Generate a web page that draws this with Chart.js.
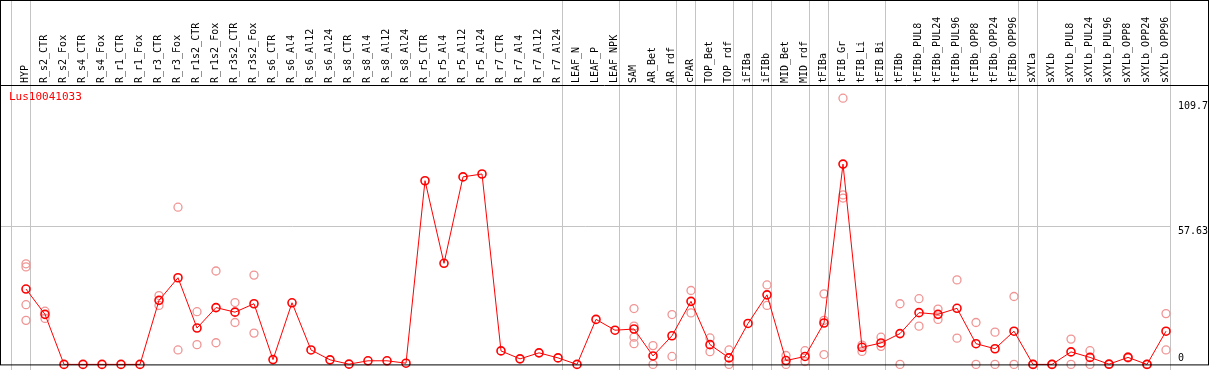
<!DOCTYPE html>
<html>
<head>
<meta charset="utf-8">
<script src="https://cdn.jsdelivr.net/npm/chart.js@4.4.1/dist/chart.umd.min.js"></script>
<style>
  html, body { margin: 0; padding: 0; background: #fff; }
  canvas { display: block; }
</style>
</head>
<body>
<canvas id="chart" width="1209" height="370"></canvas>
<script>
// sample names (top labels)
const samples = [
    'HYP', 'R_s2_CTR', 'R_s2_Fox', 'R_s4_CTR', 'R_s4_Fox', 'R_r1_CTR', 'R_r1_Fox',
    'R_r3_CTR', 'R_r3_Fox', 'R_r1s2_CTR', 'R_r1s2_Fox', 'R_r3s2_CTR', 'R_r3s2_Fox',
    'R_s6_CTR', 'R_s6_Al4', 'R_s6_Al12', 'R_s6_Al24', 'R_s8_CTR', 'R_s8_Al4',
    'R_s8_Al12', 'R_s8_Al24', 'R_r5_CTR', 'R_r5_Al4', 'R_r5_Al12', 'R_r5_Al24',
    'R_r7_CTR', 'R_r7_Al4', 'R_r7_Al12', 'R_r7_Al24', 'LEAF_N', 'LEAF_P', 'LEAF_NPK',
    'SAM', 'AR_Bet', 'AR_rdf', 'cPAR', 'TOP_Bet', 'TOP_rdf', 'iFIBa', 'iFIBb',
    'MID_Bet', 'MID_rdf', 'tFIBa', 'tFIB_Gr', 'tFIB_Li', 'tFIB_Bi', 'tFIBb',
    'tFIBb_PUL8', 'tFIBb_PUL24', 'tFIBb_PUL96', 'tFIBb_OPP8', 'tFIBb_OPP24', 'tFIBb_OPP96',
    'sXYLa', 'sXYLb', 'sXYLb_PUL8', 'sXYLb_PUL24', 'sXYLb_PUL96', 'sXYLb_OPP8',
    'sXYLb_OPP24', 'sXYLb_OPP96'
];

// mean expression
const meanValues = [
    31.3, 20.8, 0, 0, 0, 0, 0, 26.6, 36.0, 15.1,
    23.6, 21.7, 25.2, 2.0, 25.6, 6.0, 1.9, 0.1, 1.5, 1.5,
    0.5, 76.3, 42.0, 77.9, 79.1, 5.6, 2.3, 4.8, 2.7, 0,
    18.7, 14.2, 14.7, 3.5, 11.9, 26.2, 8.2, 2.7, 17.0, 28.9,
    1.6, 3.3, 17.2, 83.2, 7.1, 8.9, 12.8, 21.5, 20.8, 23.3,
    8.6, 6.5, 13.8, 0, 0, 5.2, 2.9, 0.1, 2.9, 0,
    13.8
];

// replicates (null = no replicate)
const rep1 = [
    41.8, 22.1, null, null, null, null, null, 28.6, 65.3, 21.9,
    38.8, 25.7, 37.1, null, null, null, null, null, null, null,
    null, null, null, null, null, null, null, null, null, null,
    null, null, 23.2, 7.8, 20.7, 30.7, 11.0, 6.0, null, 33.0,
    3.7, 5.7, 29.3, 110.6, 8.0, 11.3, 25.2, 27.3, 23.0, 35.1,
    17.4, 13.4, 28.2, 0, 0, 10.5, 5.7, 0, 3.1, 0,
    21.1
];
const rep2 = [
    40.5, 19.1, null, null, null, null, null, 24.5, 6.0, 8.2,
    9.0, 17.4, 13.0, null, null, null, null, null, null, null,
    null, null, null, null, null, null, null, null, null, null,
    null, null, 15.9, 0, 3.3, 21.4, 5.3, 0, null, 24.5,
    0, 1.2, 18.3, 70.4, 5.4, 7.5, 0, 15.9, 18.7, 10.9,
    0, 0, 0, 0, 0, 0, 0, 0, 2.7, 0,
    6.0
];
const rep3 = [
    24.8, null, null, null, null, null, null, null, null, null,
    null, null, null, null, null, null, null, null, null, null,
    null, null, null, null, null, null, null, null, null, null,
    null, null, 11.3, null, null, null, null, null, null, null,
    null, null, 4.1, 69.1, null, null, null, null, null, null,
    null, null, null, null, null, null, null, null, null, null,
    null
];
const rep4 = [
    18.3, null, null, null, null, null, null, null, null, null,
    null, null, null, null, null, null, null, null, null, null,
    null, null, null, null, null, null, null, null, null, null,
    null, null, 8.6, null, null, null, null, null, null, null,
    null, null, null, null, null, null, null, null, null, null,
    null, null, null, null, null, null, null, null, null, null,
    null
];

// group separators come after these sample indexes
const groupEnds = [-1, 0, 28, 31, 34, 35, 37, 38, 39, 41, 42, 45, 52, 53, 60];
const yTicks = [109.7, 57.63, 0];
const geneName = 'Lus10041033';

const monoFont = 'DejaVu Sans Mono';
const repColor = '#f09494';

function repSet(values) {
    return {
        label: 'rep',
        data: values,
        showLine: false,
        pointStyle: 'circle',
        pointRadius: 4,
        pointBorderWidth: 1.3,
        pointBorderColor: repColor,
        pointBackgroundColor: 'rgba(0,0,0,0)',
        order: 2,
        clip: false
    };
}

const framePlugin = {
    id: 'frame',
    beforeDraw(chart) {
        const ctx = chart.ctx;
        ctx.save();
        ctx.fillStyle = '#fff';
        ctx.fillRect(0, 0, chart.width, chart.height);
        ctx.restore();
    },
    beforeDatasetsDraw(chart) {
        const ctx = chart.ctx;
        const x = chart.scales.x;
        const y = chart.scales.y;
        const step = x.getPixelForValue(1) - x.getPixelForValue(0);
        ctx.save();
        ctx.strokeStyle = '#c4c4c4';
        ctx.lineWidth = 1;
        let lastX = 0;
        groupEnds.forEach(i => {
            const px = Math.floor(x.getPixelForValue(0) + step * (i + 0.25)) + 0.5;
            lastX = px;
            ctx.beginPath();
            ctx.moveTo(px, 0);
            ctx.lineTo(px, chart.height);
            ctx.stroke();
        });
        const py = Math.round(y.getPixelForValue(57.63)) + 0.5;
        ctx.beginPath();
        ctx.moveTo(0, py);
        ctx.lineTo(lastX, py);
        ctx.stroke();
        ctx.restore();
    },
    afterDraw(chart) {
        const ctx = chart.ctx;
        const area = chart.chartArea;
        const y = chart.scales.y;
        ctx.save();
        ctx.strokeStyle = '#000';
        ctx.lineWidth = 1;
        ctx.strokeRect(0.5, 0.5, chart.width - 1, area.bottom);
        ctx.beginPath();
        ctx.moveTo(0, Math.round(area.top) + 0.5);
        ctx.lineTo(chart.width, Math.round(area.top) + 0.5);
        ctx.stroke();

        ctx.font = '10px "' + monoFont + '"';
        ctx.fillStyle = '#000';
        ctx.textAlign = 'left';
        yTicks.forEach(v => {
            const py = y.getPixelForValue(v);
            if (v === 0) {
                ctx.textBaseline = 'bottom';
                ctx.fillText(String(v), 1178, py - 1);
            } else {
                ctx.textBaseline = 'top';
                ctx.fillText(String(v), 1178, py + 1);
            }
        });

        ctx.fillStyle = '#ff0000';
        ctx.font = '11px "' + monoFont + '"';
        ctx.textBaseline = 'top';
        ctx.fillText(geneName, 9, area.top + 7);
        ctx.restore();
    }
};

const config = {
    type: 'line',
    data: {
        labels: samples,
        datasets: [
            {
                label: geneName,
                data: meanValues,
                borderColor: '#ff0000',
                borderWidth: 1,
                tension: 0,
                pointStyle: 'circle',
                pointRadius: 4,
                pointBorderWidth: 1.6,
                pointBorderColor: '#ff0000',
                pointBackgroundColor: 'rgba(0,0,0,0)',
                order: 1,
                clip: false
            },
            repSet(rep1),
            repSet(rep2),
            repSet(rep3),
            repSet(rep4)
        ]
    },
    options: {
        responsive: false,
        animation: false,
        devicePixelRatio: 1,
        layout: {
            padding: { left: 26, right: 43, top: 0, bottom: 1 }
        },
        plugins: {
            legend: { display: false },
            title: { display: false },
            tooltip: { enabled: false }
        },
        scales: {
            x: {
                type: 'category',
                position: 'top',
                offset: false,
                grid: { display: false, drawTicks: false },
                border: { display: false },
                ticks: {
                    autoSkip: false,
                    minRotation: 90,
                    maxRotation: 90,
                    padding: 2,
                    labelOffset: 11,
                    color: '#000',
                    font: { family: monoFont, size: 10 }
                },
                afterFit: scale => { scale.height = 85; }
            },
            y: {
                display: false,
                min: 0,
                max: 116.07
            }
        }
    },
    plugins: [framePlugin]
};

const myChart = new Chart(document.getElementById('chart'), config);
</script>
</body>
</html>
